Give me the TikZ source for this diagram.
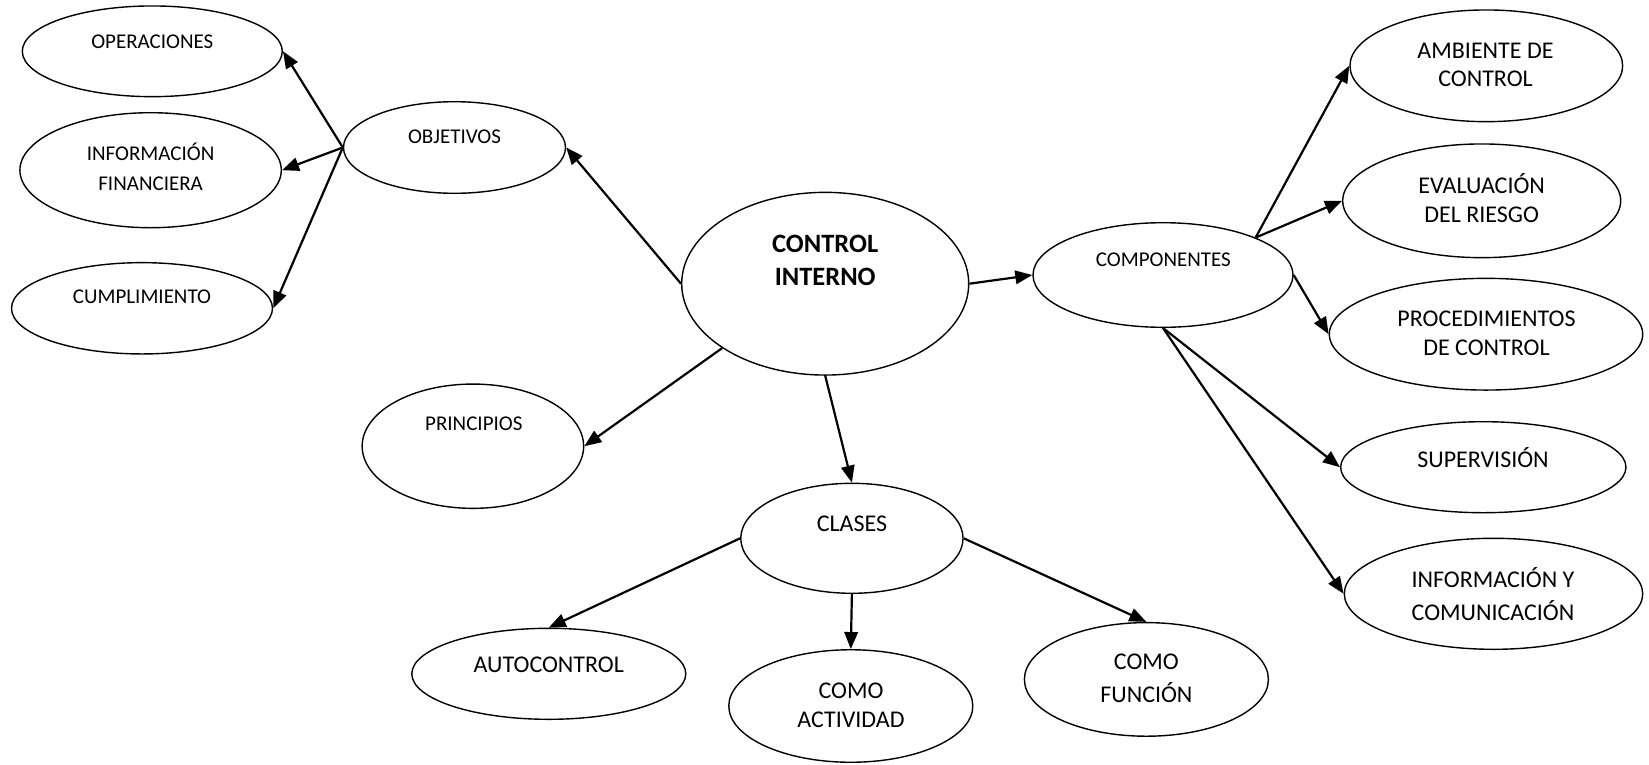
\documentclass[tikz,border=0pt]{standalone}
\usepackage{fontspec}
\setmainfont{Carlito}
\usetikzlibrary{arrows.meta,shapes.geometric}
\begin{document}
\begin{tikzpicture}[x=1pt,y=-1pt,
  oval/.style={ellipse, draw, line width=1.4pt, inner sep=0pt},
  lbl/.style={inner sep=0pt, align=center, font=\fontsize{24}{29}\selectfont},
  lblsm/.style={inner sep=0pt, align=center, font=\fontsize{21}{30}\selectfont},
  link/.style={line width=2.2pt, -{Triangle[length=17pt,width=13.5pt]}}]
\useasboundingbox (0,0) rectangle (1649,764);

% ---- ovals ----
\node[oval, minimum width=260pt, minimum height=90.7pt] (oper) at (152.3,51.3) {};
\node[oval, minimum width=261.4pt, minimum height=115pt] (infof) at (150.6,170.2) {};
\node[oval, minimum width=261pt, minimum height=91.3pt] (cumpl) at (142,308.3) {};
\node[oval, minimum width=222pt, minimum height=91.6pt] (obj) at (454.5,147.5) {};
\node[oval, minimum width=287pt, minimum height=182.7pt] (ctrl) at (825.2,283.7) {};
\node[oval, minimum width=260pt, minimum height=104.6pt] (comp) at (1163,275) {};
\node[oval, minimum width=221.5pt, minimum height=124.3pt] (princ) at (472.9,446.2) {};
\node[oval, minimum width=222.3pt, minimum height=110pt] (clases) at (851.9,538.3) {};
\node[oval, minimum width=274pt, minimum height=91pt] (auto) at (548.8,673.8) {};
\node[oval, minimum width=244pt, minimum height=112.5pt] (act) at (850.8,706) {};
\node[oval, minimum width=244pt, minimum height=113.6pt] (func) at (1146.4,679.4) {};
\node[oval, minimum width=272.7pt, minimum height=111.7pt] (amb) at (1486.3,65.8) {};
\node[oval, minimum width=278pt, minimum height=113.7pt] (eval) at (1481.7,200.8) {};
\node[oval, minimum width=313.4pt, minimum height=111.7pt] (proc) at (1486,334.2) {};
\node[oval, minimum width=285.3pt, minimum height=91pt] (sup) at (1483.3,467.2) {};
\node[oval, minimum width=298.4pt, minimum height=111pt] (infoy) at (1493.5,593.8) {};

% ---- labels ----
\node[lblsm] (t-oper) at (152.3,41.7) {OPERACIONES};
\node[lblsm] (t-infof) at (150.6,166.7) {INFORMACIÓN\\FINANCIERA};
\node[lblsm] (t-cumpl) at (142,296.7) {CUMPLIMIENTO};
\node[lblsm] (t-obj) at (454.5,136.7) {OBJETIVOS};
\node[inner sep=0pt, align=center, font=\fontsize{26.5}{32.4}\selectfont\bfseries] (t-ctrl) at (825.2,260.5) {CONTROL\\INTERNO};
\node[lblsm] (t-comp) at (1163.4,259.3) {COMPONENTES};
\node[lblsm] (t-princ) at (473.8,423.3) {PRINCIPIOS};
\node[lbl] (t-clases) at (851.9,523.3) {CLASES};
\node[lbl] (t-auto) at (548.8,665) {AUTOCONTROL};
\node[lbl] (t-act) at (851,705.5) {COMO\\ACTIVIDAD};
\node[lbl, font=\fontsize{24}{33.5}\selectfont] (t-func) at (1146.4,678.3) {COMO\\FUNCIÓN};
\node[lbl, font=\fontsize{24}{28.3}\selectfont] (t-amb) at (1485.5,64.8) {AMBIENTE DE\\CONTROL};
\node[lbl, font=\fontsize{24}{28.7}\selectfont] (t-eval) at (1481.7,198.4) {EVALUACIÓN\\DEL RIESGO};
\node[lbl, font=\fontsize{24}{29.4}\selectfont] (t-proc) at (1486.5,333) {PROCEDIMIENTOS\\DE CONTROL};
\node[lbl] (t-sup) at (1483,457.7) {SUPERVISIÓN};
\node[lbl, font=\fontsize{24}{33.3}\selectfont] (t-infoy) at (1493,594.3) {INFORMACIÓN Y\\COMUNICACIÓN};

% ---- connectors ----
\draw[link] (obj.west) -- (oper.east);
\draw[link] (obj.west) -- (infof.east);
\draw[link] (obj.west) -- (cumpl.east);
\draw[link] (ctrl.west) -- (obj.east);
\draw[link] (ctrl.212.5) -- (princ.east);
\draw[link] (ctrl.south) -- (clases.north);
\draw[link] (ctrl.east) -- (comp.west);
\draw[link] (comp.22) -- (amb.west);
\draw[link] (comp.22) -- (eval.west);
\draw[link] (comp.east) -- (proc.west);
\draw[link] (comp.south) -- (sup.west);
\draw[link] (comp.south) -- (infoy.west);
\draw[link] (clases.west) -- (auto.north);
\draw[link] (clases.south) -- (act.north);
\draw[link] (clases.east) -- (func.north);
\end{tikzpicture}
\end{document}
